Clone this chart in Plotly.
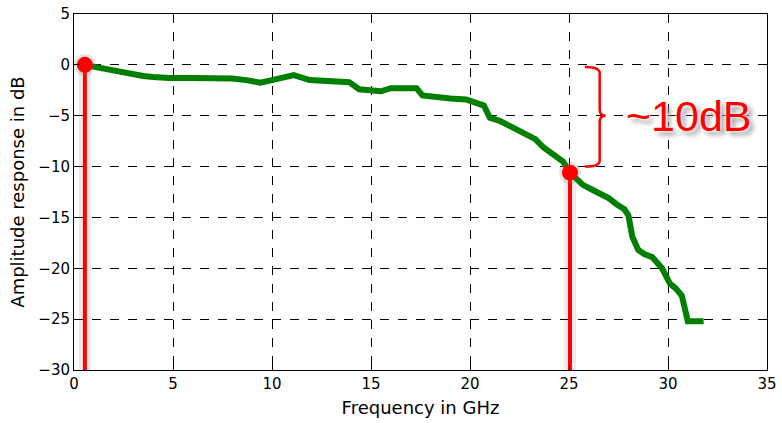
import plotly.graph_objects as go

# Frequency response (GHz, dB)
freq_ghz = [0.5, 1.0, 1.5, 2.0, 2.5, 3.0, 3.5, 4.0, 4.8, 6.0, 7.0, 8.0, 8.7, 9.4, 10.0, 10.4, 10.9, 11.1,
            11.9, 12.5, 13.2, 13.9, 14.4, 15.0, 15.5, 16.0, 16.6, 17.3, 17.6, 18.0, 18.5, 19.0, 19.8,
            20.2, 20.7, 21.0, 21.5, 22.0, 22.4, 22.9, 23.3, 23.7, 24.2, 24.7, 25.05, 25.7, 26.2, 26.6,
            27.0, 27.4, 27.8, 28.0, 28.2, 28.5, 28.8, 29.2, 29.7, 30.1, 30.4, 30.7, 30.9, 31.0, 31.4, 31.8]
amp_db = [0.0, -0.2, -0.3, -0.45, -0.7, -0.9, -1.1, -1.2, -1.3, -1.3, -1.3, -1.35, -1.5, -1.75, -1.5, -1.3, -1.05, -1.0,
          -1.5, -1.55, -1.6, -1.7, -2.4, -2.5, -2.6, -2.3, -2.3, -2.3, -3.0, -3.1, -3.3, -3.3, -3.4,
          -3.6, -4.0, -5.2, -5.5, -6.0, -6.4, -6.8, -7.3, -8.1, -8.8, -9.5, -10.6, -11.8, -12.3, -12.7,
          -13.1, -13.7, -14.2, -14.8, -16.9, -18.2, -18.6, -18.9, -20.0, -21.5, -22.0, -22.7, -24.9, -25.2, -25.2, -25.2]

# Highlighted points
marker_freq = [0.55, 25.05]
marker_db = [0.0, -10.6]

x_ticks = [0, 5, 10, 15, 20, 25, 30, 35]
y_ticks = [5, 0, -5, -10, -15, -20, -25, -30]
annotation_text = "~10dB"

fig = go.Figure()

# stems
for fx, fy in zip(marker_freq, marker_db):
    fig.add_trace(go.Scatter(x=[fx, fx], y=[-30, fy], mode="lines",
                             line=dict(color="rgba(120,120,120,0.15)", width=12),
                             hoverinfo="skip", showlegend=False))
    fig.add_trace(go.Scatter(x=[fx, fx], y=[-30, fy], mode="lines",
                             line=dict(color="#ff0000", width=4),
                             hoverinfo="skip", showlegend=False))

fig.add_trace(go.Scatter(x=freq_ghz, y=amp_db, mode="lines",
                         line=dict(color="#007f00", width=6, shape="linear"),
                         showlegend=False))

fig.add_trace(go.Scatter(x=marker_freq, y=marker_db, mode="markers",
                         marker=dict(color="rgba(120,120,120,0.2)", size=22),
                         hoverinfo="skip", showlegend=False))
fig.add_trace(go.Scatter(x=marker_freq, y=marker_db, mode="markers",
                         marker=dict(color="#ff0000", size=16, line=dict(width=0)),
                         showlegend=False))

# curly brace
brace_path = ("M 25.8,-0.2 Q 26.55,-0.2 26.55,-0.8 L 26.55,-4.4 "
              "Q 26.55,-5.0 26.85,-5.0 Q 26.55,-5.0 26.55,-5.6 "
              "L 26.55,-9.4 Q 26.55,-10.0 25.8,-10.0")
fig.add_shape(type="path", path=brace_path, xref="x", yref="y",
              line=dict(color="#ff0000", width=2.5))

fig.add_annotation(x=27.8, y=-5.0, xref="x", yref="y", text=annotation_text,
                   showarrow=False, xanchor="left", yanchor="middle",
                   font=dict(family="Liberation Sans, Arial, sans-serif", size=43, color="#ff0000",
                             shadow="0 0 2px #fff, 0 0 3px #fff, 4px 4px 5px #999"))

tick_font = dict(family="DejaVu Sans, sans-serif", size=15, color="#000")
title_font = dict(family="DejaVu Sans, sans-serif", size=18, color="#000")

fig.update_xaxes(range=[0, 35], tickvals=x_ticks, ticks="inside", ticklen=5, tickcolor="#000",
                 showline=True, linecolor="#000", linewidth=1, mirror="ticks",
                 showgrid=True, gridcolor="#000", griddash="dash", gridwidth=1,
                 zeroline=False, tickfont=tick_font, automargin=False,
                 title=dict(text="Frequency in GHz", font=title_font, standoff=9))
fig.update_yaxes(range=[-30, 5], tickvals=y_ticks, ticks="inside", ticklen=5, tickcolor="#000",
                 showline=True, linecolor="#000", linewidth=1, mirror="ticks",
                 showgrid=True, gridcolor="#000", griddash="dash", gridwidth=1,
                 zeroline=False, tickfont=tick_font, automargin=False,
                 title=dict(text="Amplitude response in dB", font=title_font, standoff=9))

fig.update_layout(width=782, height=423, plot_bgcolor="#fff", paper_bgcolor="#fff",
                  margin=dict(l=74, r=15, t=14, b=53), showlegend=False)

# remove the default 8px page margin so the figure sits at the window's corner
fig.write_html("out.html", config={"displayModeBar": False},
               post_script="document.body.style.margin='0';document.body.style.overflow='hidden';")
